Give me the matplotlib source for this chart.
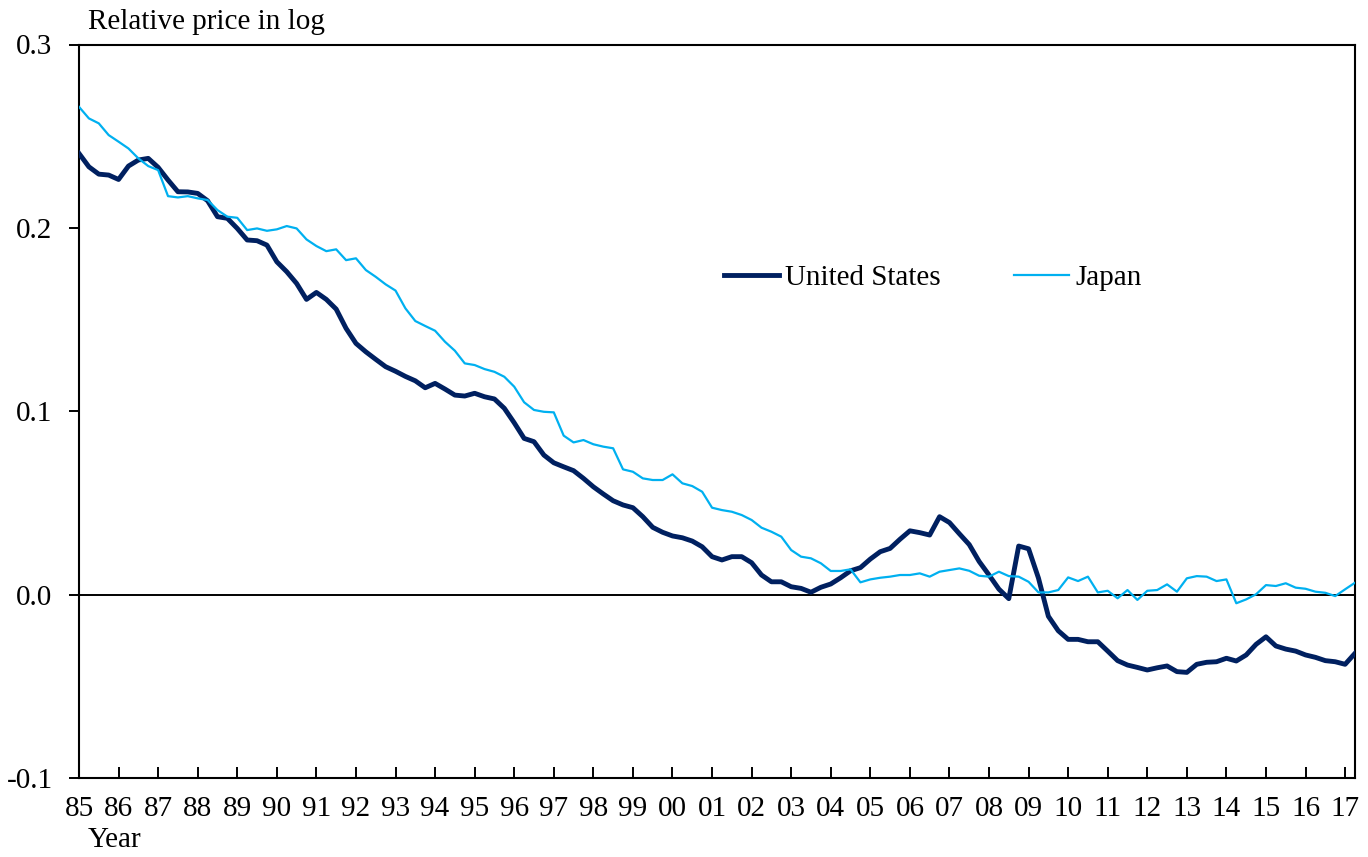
import matplotlib.pyplot as plt

# quarterly data, 1985Q1 - 2017Q2
start_year = 1985
us = [0.2406, 0.2333, 0.2293, 0.2288, 0.2264, 0.2337, 0.2370, 0.2379,
      0.2330, 0.2261, 0.2197, 0.2196, 0.2188, 0.2148, 0.2061, 0.2052,
      0.1997, 0.1934, 0.1930, 0.1906, 0.1815, 0.1761, 0.1697, 0.1610,
      0.1648, 0.1610, 0.1557, 0.1452, 0.1370, 0.1324, 0.1283, 0.1243,
      0.1218, 0.1190, 0.1166, 0.1128, 0.1152, 0.1121, 0.1088, 0.1083,
      0.1098, 0.1079, 0.1067, 0.1016, 0.0937, 0.0852, 0.0834, 0.0761,
      0.0719, 0.0697, 0.0676, 0.0634, 0.0588, 0.0549, 0.0512, 0.0489,
      0.0474, 0.0425, 0.0367, 0.0340, 0.0320, 0.0310, 0.0292, 0.0261,
      0.0207, 0.0189, 0.0207, 0.0207, 0.0174, 0.0107, 0.0070, 0.0070,
      0.0043, 0.0034, 0.0013, 0.0040, 0.0058, 0.0092, 0.0130, 0.0147,
      0.0194, 0.0234, 0.0252, 0.0302, 0.0348, 0.0338, 0.0325, 0.0425,
      0.0393, 0.0332, 0.0273, 0.0181, 0.0107, 0.0030, -0.0022, 0.0265,
      0.0250, 0.0090, -0.0118, -0.0197, -0.0244, -0.0244, -0.0257, -0.0257,
      -0.0308, -0.0360, -0.0384, -0.0397, -0.0411, -0.0399, -0.0389, -0.0420,
      -0.0424, -0.0380, -0.0369, -0.0366, -0.0347, -0.0362, -0.0329, -0.0271,
      -0.0230, -0.0280, -0.0297, -0.0308, -0.0329, -0.0342, -0.0360, -0.0366,
      -0.0380, -0.0320]
japan = [0.2660, 0.2597, 0.2570, 0.2506, 0.2470, 0.2433, 0.2379, 0.2337,
         0.2315, 0.2173, 0.2166, 0.2173, 0.2161, 0.2152, 0.2097, 0.2061,
         0.2055, 0.1988, 0.1997, 0.1984, 0.1992, 0.2010, 0.1997, 0.1937,
         0.1901, 0.1873, 0.1883, 0.1824, 0.1834, 0.1770, 0.1733, 0.1692,
         0.1658, 0.1561, 0.1492, 0.1465, 0.1439, 0.1379, 0.1330, 0.1261,
         0.1252, 0.1230, 0.1215, 0.1188, 0.1134, 0.1049, 0.1007, 0.0997,
         0.0994, 0.0867, 0.0830, 0.0843, 0.0820, 0.0807, 0.0798, 0.0683,
         0.0670, 0.0634, 0.0625, 0.0625, 0.0656, 0.0607, 0.0592, 0.0561,
         0.0474, 0.0461, 0.0452, 0.0434, 0.0407, 0.0365, 0.0343, 0.0316,
         0.0243, 0.0207, 0.0198, 0.0171, 0.0129, 0.0129, 0.0138, 0.0067,
         0.0083, 0.0092, 0.0098, 0.0107, 0.0107, 0.0116, 0.0098, 0.0125,
         0.0134, 0.0143, 0.0130, 0.0103, 0.0098, 0.0125, 0.0101, 0.0098,
         0.0070, 0.0012, 0.0012, 0.0025, 0.0094, 0.0074, 0.0098, 0.0012,
         0.0021, -0.0020, 0.0025, -0.0029, 0.0021, 0.0025, 0.0056, 0.0016,
         0.0089, 0.0101, 0.0098, 0.0074, 0.0083, -0.0047, -0.0026, 0.0002,
         0.0052, 0.0047, 0.0062, 0.0038, 0.0032, 0.0016, 0.0010, -0.0008,
         0.0029, 0.0065]
years = list(range(1985, 2018))
year_labels = ["%02d" % (y % 100) for y in years]

x = [start_year + i / 4 for i in range(len(us))]

plt.rcParams["font.family"] = ["Liberation Serif", "DejaVu Serif"]
plt.rcParams["font.size"] = 21

fig = plt.figure(figsize=(13.68, 8.57), dpi=100)
ax = fig.add_axes([79 / 1368, 1 - 778 / 857, 1276 / 1368, 733.5 / 857])

ax.plot(x, us, color="#002060", lw=3.5, label="United States", zorder=3)
ax.plot(x, japan, color="#00B0F0", lw=1.6, label="Japan", zorder=3)
ax.axhline(0, color="black", lw=1.4, zorder=2)

ax.set_xlim(x[0], x[-1])
ax.set_ylim(-0.1, 0.3)
ax.set_yticks([-0.1, 0.0, 0.1, 0.2, 0.3])
ax.set_yticklabels(["-0.1", "0.0", "0.1", "0.2", "0.3"])
ax.set_xticks(years)
ax.set_xticklabels(year_labels)
ax.tick_params(axis="x", direction="in", length=8, width=1.4, pad=13)
ax.tick_params(axis="y", direction="out", length=7, width=1.4, pad=12)
for s in ax.spines.values():
    s.set_linewidth(1.5)

fig.text(88 / 1368, 1 - 22 / 857, "Relative price in log", ha="left", va="center")
fig.text(88 / 1368, 1 - 840 / 857, "Year", ha="left", va="center")

ax.legend(ncol=2, frameon=False, loc="center left",
          bbox_to_anchor=((724 - 79) / 1276, (778 - 278) / 733.5),
          borderaxespad=0, borderpad=0, handlelength=1.9,
          handletextpad=0.2, columnspacing=2.5)

fig.savefig("out.png", dpi=100)
